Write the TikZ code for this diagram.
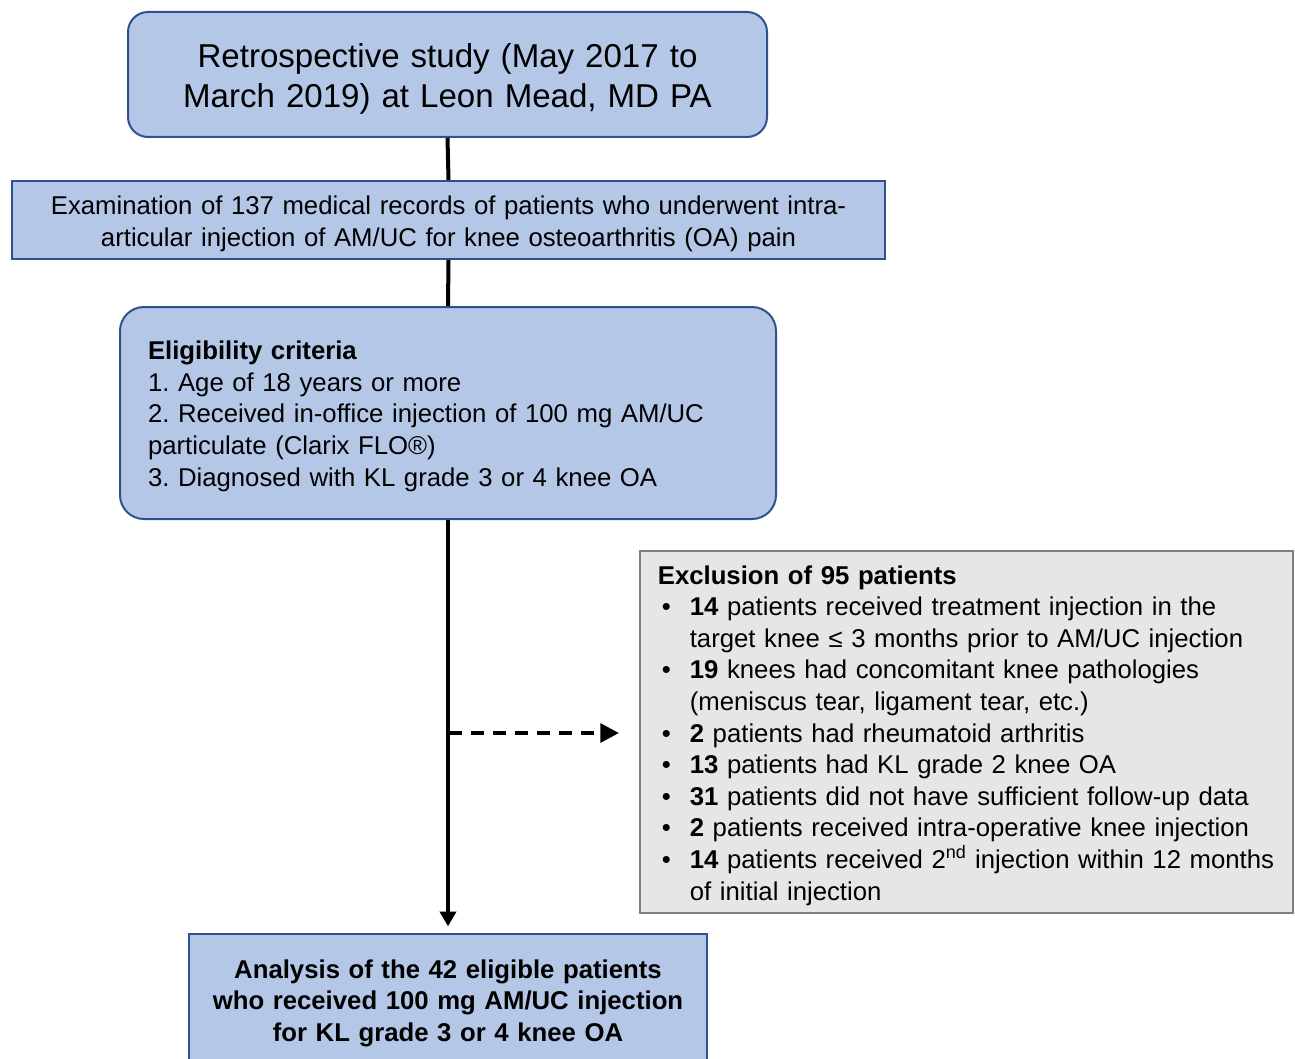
\documentclass[tikz,border=0pt]{standalone}
\usepackage{fontspec}
\setmainfont{Liberation Sans}
\usetikzlibrary{arrows.meta}
\definecolor{boxblue}{RGB}{180,199,231}
\definecolor{boxedge}{RGB}{47,82,143}
\definecolor{exfill}{RGB}{231,230,230}
\definecolor{exedge}{RGB}{127,127,127}
\frenchspacing
\newcommand{\bodyfont}{\fontsize{19.3}{23.7}\selectfont}
\newcommand{\exitem}[2]{\makebox[24pt][l]{\hspace{3pt}\textbullet}\textbf{#1} #2}
\newcommand{\exindent}{\hspace*{24pt}}
\tikzset{every picture/.style={line width=0.75pt}}
\tikzset{
  bluebox/.style={draw=boxedge, fill=boxblue, line width=1.5pt, inner sep=0pt},
  greybox/.style={draw=exedge, fill=exfill, line width=1.5pt, inner sep=0pt},
  textdrop/.style={execute at begin node={\rule{0pt}{#1}}},
  flowline/.style={line width=3pt, black},
}

\begin{document}
\begin{tikzpicture}[x=0.75pt,y=0.75pt,yscale=-1,xscale=1]
\useasboundingbox (0,0) rectangle (1295,1059);

% Text Node
\node (study) [bluebox, textdrop=24pt, rounded corners=15pt, minimum width=479.25pt, minimum height=93.75pt,
  text width=470pt, align=center, font=\fontsize{24.8}{30}\selectfont] at (447.5,74.5)
  {Retrospective study (May 2017 to\\ March 2019) at Leon Mead, MD PA};
% Text Node
\node (exam) [bluebox, textdrop=20.5pt, minimum width=654.75pt, minimum height=58.5pt,
  text width=645pt, align=center, font=\fontsize{19.3}{24}\selectfont] at (448.5,220)
  {Examination of 137 medical records of patients who underwent intra-\\ articular injection of AM/UC for knee osteoarthritis (OA) pain};
% Text Node
\node (elig) [bluebox, textdrop=19pt, rounded corners=18pt, minimum width=492pt, minimum height=159pt,
  text width=450pt, align=left, font=\bodyfont] at (448,413)
  {\textbf{Eligibility criteria}\\
   1. Age of 18 years or more\\
   2. Received in-office injection of 100 mg AM/UC\\
   particulate (Clarix FLO®)\\
   3. Diagnosed with KL grade 3 or 4 knee OA};
% Text Node
\node (excl) [greybox, textdrop=19pt, minimum width=489.75pt, minimum height=271.5pt,
  text width=463pt, align=left, font=\bodyfont] at (966.5,732)
  {\textbf{Exclusion of 95 patients}\\
   \exitem{14}{patients received treatment injection in the}\\
   \exindent target knee ≤ 3 months prior to AM/UC injection\\
   \exitem{19}{knees had concomitant knee pathologies}\\
   \exindent (meniscus tear, ligament tear, etc.)\\
   \exitem{2}{patients had rheumatoid arthritis}\\
   \exitem{13}{patients had KL grade 2 knee OA}\\
   \exitem{31}{patients did not have sufficient follow-up data}\\
   \exitem{2}{patients received intra-operative knee injection}\\
   \exitem{14}{patients received 2\textsuperscript{nd} injection within 12 months}\\
   \exindent of initial injection};
% Text Node
\node (analysis) [bluebox, textdrop=18.5pt, minimum width=388.5pt, minimum height=99pt,
  text width=380pt, align=center, font=\bfseries\fontsize{19.3}{23.7}\selectfont] at (448,1000)
  {Analysis of the 42 eligible patients\\ who received 100 mg AM/UC injection\\ for KL grade 3 or 4 knee OA};

% Connection
\draw [flowline] (study.south) -- (exam.north);
% Connection
\draw [flowline] (exam.south) -- (elig.north);
% Connection
\draw [flowline, -{Triangle[length=11pt,width=12pt]}, shorten >=5pt] (elig.south) -- (analysis.north);
% Connection
\coordinate (split) at (449,733);
\draw [flowline, dash pattern=on 9.75pt off 6.75pt, -{Triangle[length=14pt,width=14pt]}, shorten >=15pt]
  (split) -- (excl.west |- split);

\end{tikzpicture}
\end{document}
